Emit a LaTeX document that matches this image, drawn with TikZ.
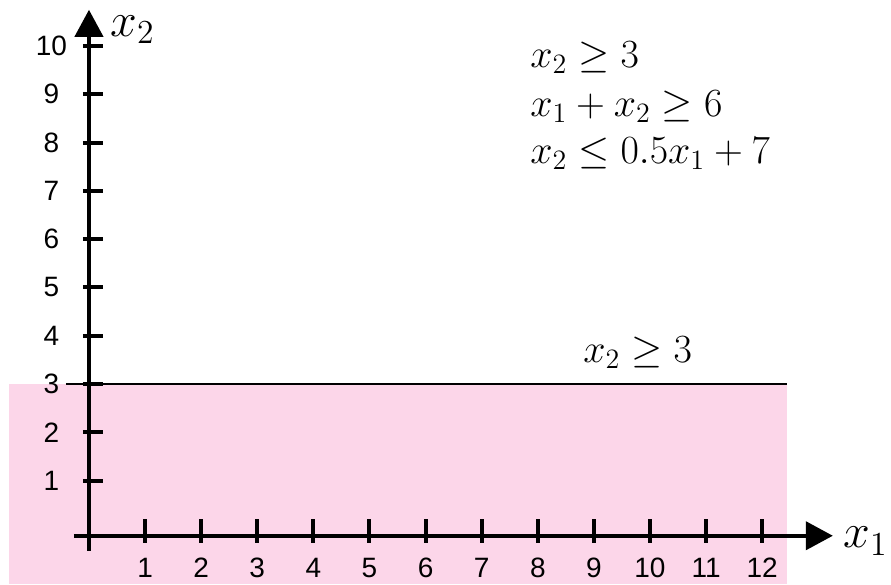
\RequirePackage{fix-cm}
\documentclass[tikz,border=0pt]{standalone}
\usepackage{amsmath,amssymb}
\usepackage{fontspec}
\newfontfamily\ticksfont{Liberation Sans}
\usetikzlibrary{arrows.meta, positioning}
\definecolor{mpink}{HTML}{FCD6E9}

\begin{document}
\begin{tikzpicture}[
    x=28.05pt, y=24.15pt,
    axis/.style={line width=2pt, -{Triangle[length=13.5pt, width=14pt]}},
    tick/.style={line width=2pt},
    bound/.style={line width=1.4pt},
    num/.style={font=\fontsize{14}{17}\selectfont\ticksfont, inner sep=0pt},
    eq/.style={font=\fontsize{20}{24}\selectfont, inner sep=0pt, anchor=base west},
    axlbl/.style={font=\fontsize{24}{28}\selectfont, inner sep=0pt, anchor=base west}
  ]

  \useasboundingbox (-1.586,-1.139) rectangle (14.296,10.952);

  % feasible region x2 >= 3
  \fill[mpink] (-1.426,-1.139) rectangle (12.44,3);
  \draw[bound] (-0.41,3) -- (12.44,3);

  % axes
  \coordinate (xstart) at (-0.27,-0.14);
  \coordinate (xend) at (13.26,-0.14);
  \coordinate (ystart) at (0,-0.45);
  \coordinate (yend) at (0,10.75);
  \draw[axis] (xstart) -- (xend);
  \draw[axis] (ystart) -- (yend);

  \foreach \i in {1,...,12} {
    \draw[tick] (\i,-0.29) -- (\i,0.21);
    \node[num] (xt\i) at (\i,-0.8) {\i};
  }
  \foreach \i in {1,...,10} {
    \draw[tick] (-0.11,\i) -- (0.25,\i);
    \node[num] (yt\i) at (-0.67,\i) {\i};
  }

  \node[axlbl] (x1lbl) at (13.44,-0.39) {$x_1$};
  \node[axlbl] (x2lbl) at (0.374,10.2) {$x_2$};

  % constraints
  \node[eq] (c1) at (7.86,9.545) {$x_2 \geq 3$};
  \node[eq] (c2) at (7.86,8.53) {$x_1 + x_2 \geq 6$};
  \node[eq] (c3) at (7.86,7.56) {$x_2 \leq 0.5x_1 + 7$};
  \node[eq] (c1lbl) at (8.806,3.443) {$x_2 \geq 3$};

\end{tikzpicture}
\end{document}
